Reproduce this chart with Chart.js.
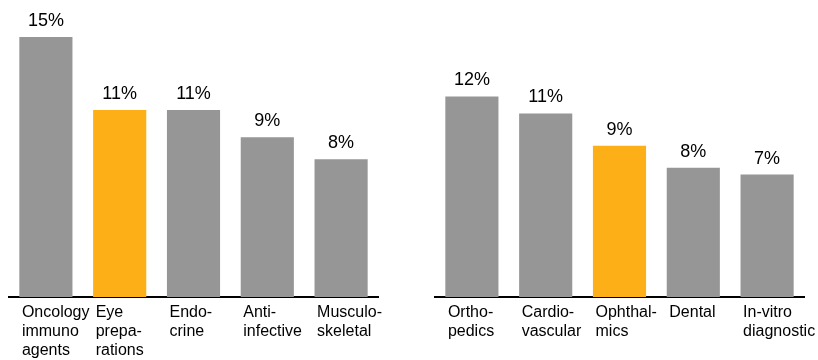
<!DOCTYPE html>
<html>
<head>
<meta charset="utf-8">
<script src="https://cdn.jsdelivr.net/npm/chart.js@4"></script>
<style>
  html, body { margin: 0; padding: 0; background: #fff; }
  .wrap { display: flex; width: 818px; height: 360px; }
  .panel { position: relative; width: 409px; height: 360px; }
</style>
</head>
<body>
<div class="wrap">
  <div class="panel"><canvas id="pharmaChart"></canvas></div>
  <div class="panel"><canvas id="medtechChart"></canvas></div>
</div>
<script>
// left group
const pharmaLabels = [
    ['Oncology', 'immuno', 'agents'],
    ['Eye', 'prepa-', 'rations'],
    ['Endo-', 'crine'],
    ['Anti-', 'infective'],
    ['Musculo-', 'skeletal']
];
const pharmaValues = [15.3, 11.0, 11.0, 9.4, 8.1];

// right group
const medtechLabels = [
    ['Ortho-', 'pedics'],
    ['Cardio-', 'vascular'],
    ['Ophthal-', 'mics'],
    ['Dental'],
    ['In-vitro', 'diagnostic']
];
const medtechValues = [11.8, 10.8, 8.9, 7.6, 7.2];

const GRAY = '#969696';
const ORANGE = '#FCAF17';
const FONT = 'Arial, "Liberation Sans", sans-serif';

// value labels above the bars
const valueLabels = {
    id: 'valueLabels',
    afterDatasetsDraw(chart) {
        const ctx = chart.ctx;
        const meta = chart.getDatasetMeta(0);
        const values = chart.data.datasets[0].data;
        ctx.save();
        ctx.font = '18px ' + FONT;
        ctx.fillStyle = '#000';
        ctx.textAlign = 'center';
        ctx.textBaseline = 'alphabetic';
        meta.data.forEach((bar, i) => {
            ctx.fillText(Math.round(values[i]) + '%', bar.x, bar.y - 11);
        });
        ctx.restore();
    }
};

function makeChart(id, labels, values, highlight, padLeft, padRight) {
    const ctx = document.getElementById(id).getContext('2d');
    return new Chart(ctx, {
        type: 'bar',
        data: {
            labels: labels,
            datasets: [{
                data: values,
                backgroundColor: c => c.index === highlight ? ORANGE : GRAY,
                categoryPercentage: 1,
                barPercentage: 0.72
            }]
        },
        options: {
            responsive: true,
            maintainAspectRatio: false,
            animation: false,
            layout: { padding: { left: padLeft, right: padRight, top: 8, bottom: 0 } },
            plugins: {
                legend: { display: false },
                tooltip: { enabled: false }
            },
            scales: {
                x: {
                    grid: { display: false, drawTicks: false },
                    border: { display: true, color: '#000', width: 2 },
                    ticks: {
                        color: '#000',
                        font: { family: FONT, size: 16, lineHeight: 1.2 },
                        align: 'start',
                        labelOffset: -24,
                        padding: 6,
                        autoSkip: false,
                        maxRotation: 0,
                        minRotation: 0
                    },
                    afterFit: scale => {
                        // labels hang off the last bar; don't let them shrink the plot
                        scale.height = 63;
                        scale.paddingLeft = 0;
                        scale.paddingRight = 0;
                    }
                },
                y: {
                    display: false,
                    min: 0,
                    max: 17
                }
            }
        },
        plugins: [valueLabels]
    });
}

const pharmaChart = makeChart('pharmaChart', pharmaLabels, pharmaValues, 1, 9, 31);
const medtechChart = makeChart('medtechChart', medtechLabels, medtechValues, 2, 26, 14);
</script>
</body>
</html>
